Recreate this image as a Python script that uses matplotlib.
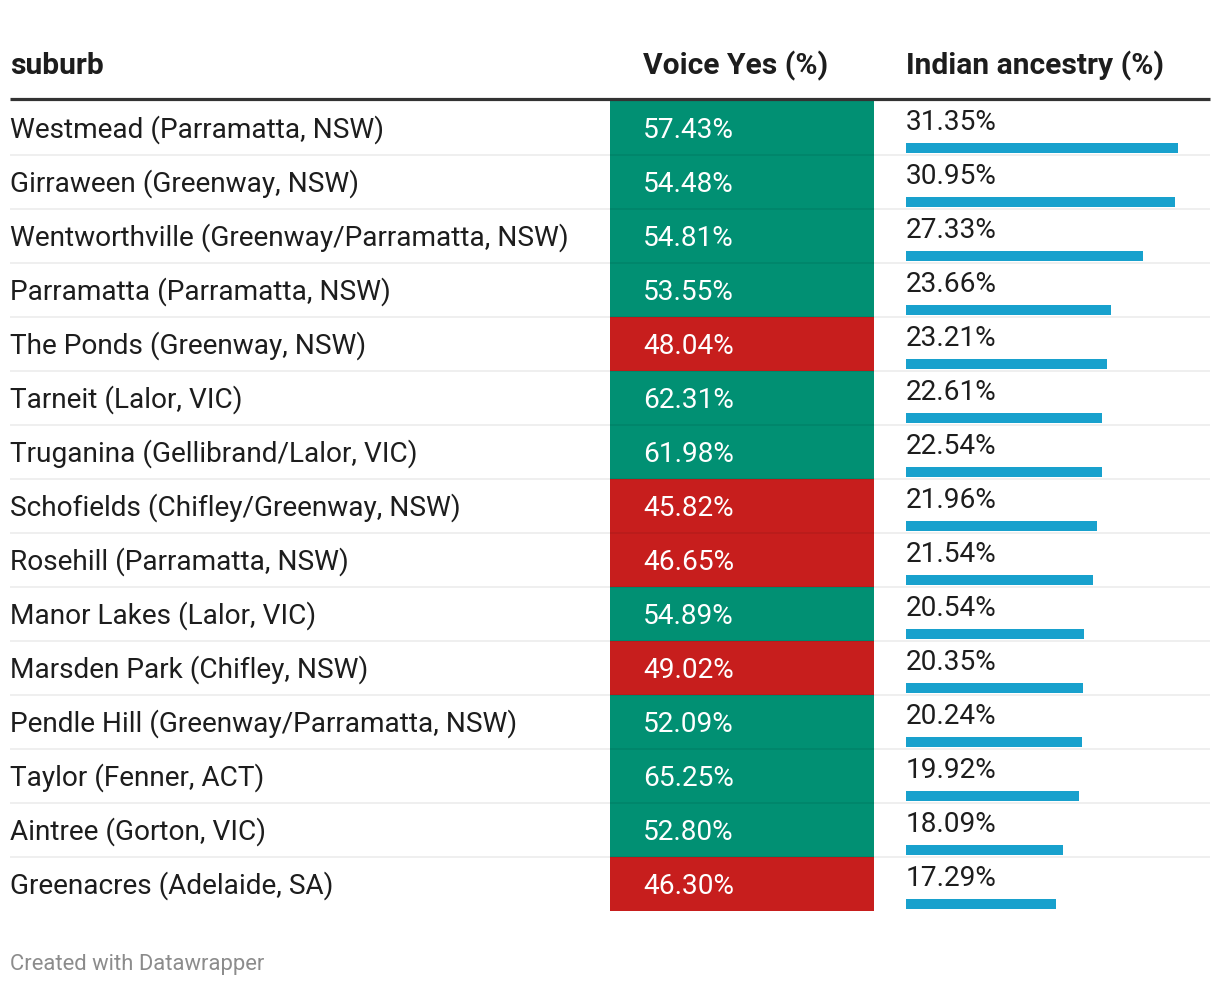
"""
Table: Voice "Yes" share vs Indian ancestry share by suburb (Datawrapper-style).
"""
import matplotlib
matplotlib.use("Agg")
import matplotlib.pyplot as plt

plt.rcParams["font.family"] = ["Roboto", "DejaVu Sans"]

suburbs = [
    "Westmead (Parramatta, NSW)",
    "Girraween (Greenway, NSW)",
    "Wentworthville (Greenway/Parramatta, NSW)",
    "Parramatta (Parramatta, NSW)",
    "The Ponds (Greenway, NSW)",
    "Tarneit (Lalor, VIC)",
    "Truganina (Gellibrand/Lalor, VIC)",
    "Schofields (Chifley/Greenway, NSW)",
    "Rosehill (Parramatta, NSW)",
    "Manor Lakes (Lalor, VIC)",
    "Marsden Park (Chifley, NSW)",
    "Pendle Hill (Greenway/Parramatta, NSW)",
    "Taylor (Fenner, ACT)",
    "Aintree (Gorton, VIC)",
    "Greenacres (Adelaide, SA)",
]
voice_yes = [57.43, 54.48, 54.81, 53.55, 48.04, 62.31, 61.98, 45.82,
             46.65, 54.89, 49.02, 52.09, 65.25, 52.80, 46.30]
indian_ancestry = [31.35, 30.95, 27.33, 23.66, 23.21, 22.61, 22.54, 21.96,
                   21.54, 20.54, 20.35, 20.24, 19.92, 18.09, 17.29]
headers = ["suburb", "Voice Yes (%)", "Indian ancestry (%)"]

GREEN = "#019073"
RED = "#c71e1d"
BLUE = "#18a1cd"
TEXT = "#1d1d1d"

# layout in pixels
W, H = 1220, 986
top = 101
row_h = 54
left, right = 10, 1210
col_voice = 610
voice_w = 264
voice_pad = 33
col_ind = 906
bar_max_px = 272
bar_h = 10
fs = 20.2

fig = plt.figure(figsize=(W / 100, H / 100), dpi=100)
ax = fig.add_axes([0, 0, 1, 1])
ax.set_xlim(0, W)
ax.set_ylim(H, 0)
ax.axis("off")

n = len(suburbs)
row_tops = [top + i * row_h for i in range(n)]
centers = [t + row_h / 2 for t in row_tops]

# voice column cells
cell_colors = [GREEN if v >= 50 else RED for v in voice_yes]
ax.barh(centers, voice_w, left=col_voice, height=row_h, color=cell_colors, zorder=1)

# indian ancestry bars
scale = bar_max_px / max(indian_ancestry)
ax.barh([t + 47 for t in row_tops], [v * scale for v in indian_ancestry],
        left=col_ind, height=bar_h, color=BLUE, zorder=1)

for t, name, v, a in zip(row_tops, suburbs, voice_yes, indian_ancestry):
    ax.text(left, t + 37, name, fontsize=fs, color=TEXT, va="baseline", ha="left")
    ax.text(col_voice + voice_pad, t + 37, f"{v:.2f}%", fontsize=fs, color="white",
            va="baseline", ha="left", zorder=3)
    ax.text(col_ind, t + 29, f"{a:.2f}%", fontsize=fs, color=TEXT, va="baseline", ha="left")

# row separators
for t in row_tops[1:]:
    ax.plot([left, right], [t, t], color="black", alpha=0.075, lw=1.2, zorder=2,
            solid_capstyle="butt")

# header
ax.plot([left, right], [top - 2, top - 2], color="#333333", lw=2.3, zorder=2,
        solid_capstyle="butt")
for x, h in zip([left, col_voice + voice_pad, col_ind], headers):
    ax.text(x, 74, h, fontsize=21.6, fontweight="bold", color=TEXT, va="baseline", ha="left")

ax.text(left, 970, "Created with Datawrapper", fontsize=15.8, color="#8c8c8c",
        va="baseline", ha="left")

fig.savefig("out.png", dpi=100)
